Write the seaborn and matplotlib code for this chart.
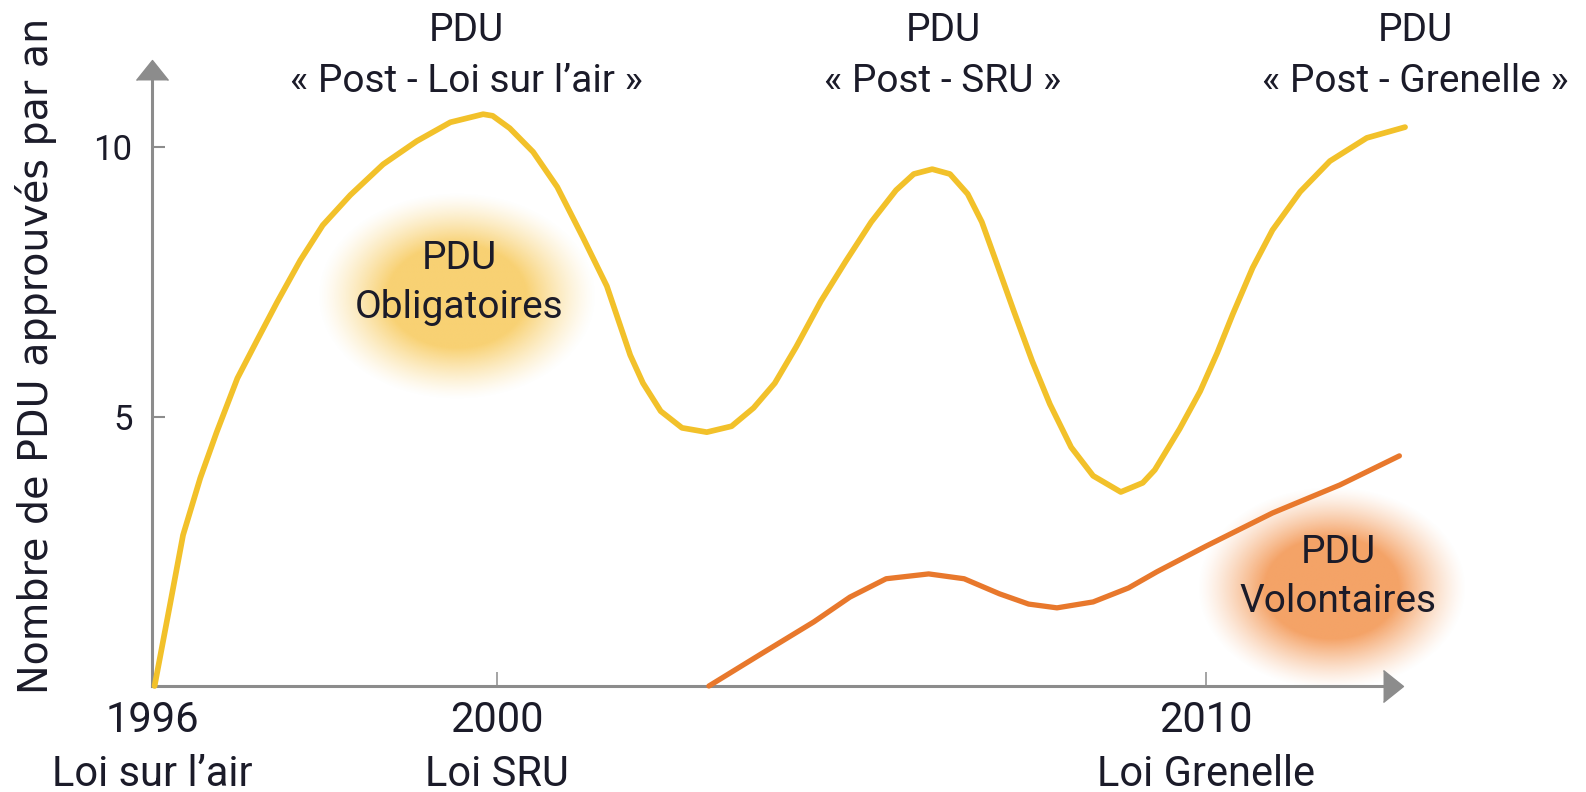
import numpy as np
import matplotlib.pyplot as plt
import seaborn as sns
from matplotlib import font_manager

# --- données -----------------------------------------------------------
# PDU obligatoires (courbe jaune)
annees_oblig = [1996.03, 1996.21, 1996.36, 1996.56, 1996.75, 1996.99, 1997.22,
                1997.45, 1997.72, 1997.98, 1998.30, 1998.68, 1999.07, 1999.46,
                1999.84, 1999.95, 2000.18, 2000.51, 2000.85, 2001.21, 2001.55,
                2001.88, 2002.06, 2002.31, 2002.61, 2002.96, 2003.31, 2003.62,
                2003.92, 2004.22, 2004.57, 2004.92, 2005.28, 2005.63, 2005.88,
                2006.14, 2006.39, 2006.64, 2006.84, 2007.04, 2007.29, 2007.55,
                2007.80, 2008.10, 2008.41, 2008.80, 2009.11, 2009.28, 2009.63,
                2009.92, 2010.16, 2010.38, 2010.66, 2010.94, 2011.33, 2011.75,
                2012.27, 2012.81]
pdu_oblig = [0.0, 1.52, 2.80, 3.86, 4.71, 5.71, 6.42,
             7.12, 7.90, 8.55, 9.11, 9.68, 10.11, 10.46,
             10.61, 10.58, 10.35, 9.91, 9.26, 8.33, 7.42,
             6.14, 5.62, 5.10, 4.79, 4.71, 4.82, 5.16,
             5.62, 6.29, 7.14, 7.88, 8.61, 9.20, 9.50,
             9.59, 9.50, 9.13, 8.61, 7.88, 6.96, 6.03,
             5.23, 4.43, 3.90, 3.60, 3.77, 4.01, 4.77,
             5.47, 6.18, 6.90, 7.76, 8.46, 9.17, 9.74,
             10.17, 10.37]

# PDU volontaires (courbe orange)
annees_volont = [2002.99, 2003.72, 2004.47, 2004.98, 2005.49, 2006.09, 2006.59,
                 2007.09, 2007.50, 2007.90, 2008.41, 2008.91, 2009.31, 2010.01,
                 2010.94, 2011.89, 2012.73]
pdu_volont = [0.0, 0.59, 1.19, 1.65, 1.99, 2.08, 1.99,
              1.71, 1.52, 1.45, 1.56, 1.82, 2.12, 2.60,
              3.21, 3.73, 4.27]

ticks_y = [5, 10]
ticks_x = [1996, 2000, 2010]
lois = ['Loi sur l’air', 'Loi SRU', 'Loi Grenelle']
periodes = ['« Post - Loi sur l’air »', '« Post - SRU »', '« Post - Grenelle »']

# --- style ---------------------------------------------------------------
W, H, DPI = 1586, 792, 100
JAUNE = '#f2c12a'
ORANGE = '#e8782c'
GRIS = '#8c8c8c'
TEXTE = '#1b1b29'

sns.set_theme(style='white')
noms = {f.name for f in font_manager.fontManager.ttflist}
etroite = 'Liberation Sans Narrow' if 'Liberation Sans Narrow' in noms else 'Roboto'
plt.rcParams['font.family'] = [etroite, 'DejaVu Sans']

fig = plt.figure(figsize=(W / DPI, H / DPI), dpi=DPI)

# fond : halos colorés derrière les étiquettes
fond = fig.add_axes([0, 0, 1, 1], zorder=0)
fond.axis('off')


def halo(cx, cy, rx, ry, rgb, alpha_max):
    gy, gx = np.mgrid[-1:1:200j, -1:1:200j]
    r = np.sqrt(gx ** 2 + gy ** 2)
    alpha = np.clip((1 - r) / 0.5, 0, 1) ** 1.3 * alpha_max
    img = np.zeros((200, 200, 4))
    img[..., :3] = np.array(rgb) / 255
    img[..., 3] = alpha
    fond.imshow(img, extent=(cx - rx, cx + rx, cy + ry, cy - ry),
                interpolation='bilinear')


halo(457, 296, 140, 104, (247, 198, 80), 0.8)
halo(1332, 588, 135, 102, (243, 150, 82), 0.88)
fond.set_xlim(0, W)
fond.set_ylim(H, 0)

# axes principaux, échelle des années non linéaire (schéma)
ax = fig.add_axes([152 / W, 1 - 686 / H, (1393 - 152) / W, (686 - 70) / H],
                  zorder=1)
ax.patch.set_alpha(0)
noeuds_annees = [1990, 1996, 2000, 2010, 2020]
noeuds_px = [-517.5, 0, 345, 1054, 1763]
ax.set_xscale('function', functions=(lambda x: np.interp(x, noeuds_annees, noeuds_px),
                                     lambda p: np.interp(p, noeuds_px, noeuds_annees)))

sns.lineplot(x=annees_oblig, y=pdu_oblig, sort=False, estimator=None,
             color=JAUNE, lw=4.1, ax=ax, clip_on=False, zorder=3,
             solid_joinstyle='round', solid_capstyle='round')
sns.lineplot(x=annees_volont, y=pdu_volont, sort=False, estimator=None,
             color=ORANGE, lw=3.8, ax=ax, clip_on=False, zorder=3,
             solid_joinstyle='round', solid_capstyle='round')

ax.set_xlim(1996, 2012.64)
ax.set_ylim(0, 11.43)

for s in ['top', 'right']:
    ax.spines[s].set_visible(False)
for s in ['left', 'bottom']:
    ax.spines[s].set_color(GRIS)
    ax.spines[s].set_linewidth(2.2)

# flèches au bout des axes
ax.plot([1], [0], marker=[(-1, -1.6), (1, 0), (-1, 1.6)], ms=23, color=GRIS,
        transform=ax.transAxes, clip_on=False, zorder=4)
ax.plot([0], [1], marker=[(-1.6, -1), (0, 1), (1.6, -1)], ms=23, color=GRIS,
        transform=ax.transAxes, clip_on=False, zorder=4)

ax.set_yticks(ticks_y)
ax.set_yticklabels([str(v) for v in ticks_y])
ax.tick_params(axis='y', direction='in', length=9.4, width=1.5, color=GRIS,
               pad=14, labelsize=25, labelcolor=TEXTE, left=True)
ax.set_xticks(ticks_x)
ax.set_xticklabels([f'{a}\n{l}' for a, l in zip(ticks_x, lois)],
                   linespacing=1.4)
ax.tick_params(axis='x', direction='in', length=10, width=1.1, color=GRIS,
               pad=10, labelsize=30, labelcolor=TEXTE, bottom=True)
ax.set_ylabel('')

fig.text(36 / W, 1 - 356 / H, 'Nombre de PDU approuvés par an',
         family='DejaVu Sans', fontsize=28.5, color=TEXTE, rotation=90,
         ha='center', va='center')

# périodes en haut du graphique
for x_px, texte in zip([466, 943, 1415], periodes):
    fig.text(x_px / W, 1 - 56 / H, 'PDU\n' + texte, ha='center', va='center',
             fontsize=28, color=TEXTE, linespacing=1.45)

# étiquettes des halos
fig.text(459 / W, 1 - 283 / H, 'PDU\nObligatoires', ha='center', va='center',
         fontsize=28, color=TEXTE, linespacing=1.4, zorder=5)
fig.text(1338 / W, 1 - 577 / H, 'PDU\nVolontaires', ha='center', va='center',
         fontsize=28, color=TEXTE, linespacing=1.4, zorder=5)

fig.savefig('out.png', dpi=DPI)
